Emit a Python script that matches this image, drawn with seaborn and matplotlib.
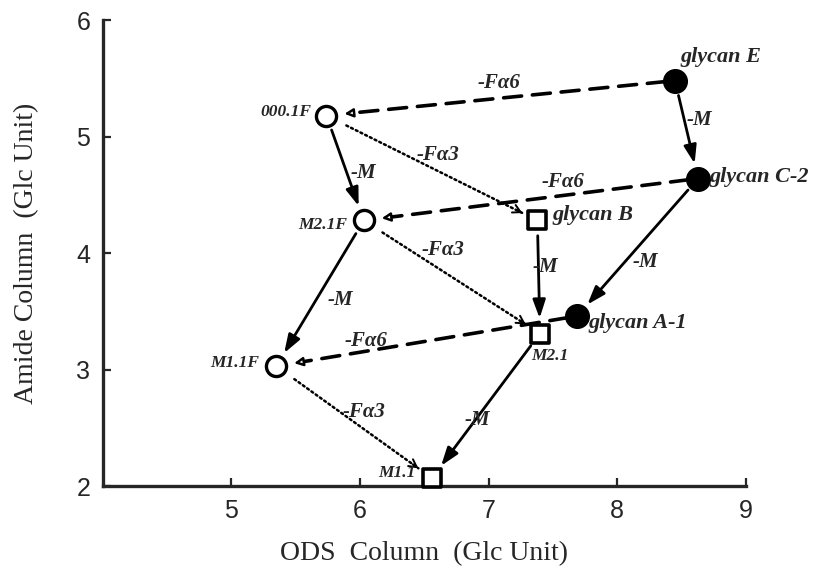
import numpy as np
import pandas as pd
import matplotlib
matplotlib.use("Agg")
import matplotlib.pyplot as plt
import seaborn as sns

# ---------------- data ----------------
names = ["glycan E", "glycan C-2", "glycan A-1", "glycan B", "M2.1", "M1.1",
         "000.1F", "M2.1F", "M1.1F"]
ods = [8.45, 8.63, 7.69, 7.38, 7.40, 6.56, 5.74, 6.03, 5.35]
amide = [5.48, 4.64, 3.46, 4.28, 3.31, 2.07, 5.18, 4.28, 3.03]
kinds = ["filled", "filled", "filled", "square", "square", "square",
         "open", "open", "open"]

# edges: source, target, type, label
edge_src = ["glycan E", "glycan C-2", "glycan B", "M2.1", "000.1F", "M2.1F",
            "glycan E", "glycan C-2", "glycan A-1",
            "000.1F", "M2.1F", "M1.1F"]
edge_dst = ["glycan C-2", "glycan A-1", "M2.1", "M1.1", "M2.1F", "M1.1F",
            "000.1F", "M2.1F", "M1.1F",
            "glycan B", "M2.1", "M1.1"]
edge_type = ["M"] * 6 + ["F6"] * 3 + ["F3"] * 3
edge_label = ["-M"] * 6 + ["-Fα6"] * 3 + ["-Fα3"] * 3

df = pd.DataFrame({"name": names, "x": ods, "y": amide, "kind": kinds})

# ---------------- layout ----------------
sns.set_style("ticks")
plt.rcParams["font.family"] = ["Liberation Serif", "DejaVu Serif"]

fig = plt.figure(figsize=(8.15, 5.72), dpi=100)
ax = fig.add_axes([0.126, 0.150, 0.789, 0.815])
ax.set_xlim(4, 9)
ax.set_ylim(2, 6)

# markers
sns.scatterplot(data=df[df.kind == "filled"], x="x", y="y", ax=ax, marker="o",
                s=290, color="black", edgecolor="black", linewidth=1,
                clip_on=False, zorder=5, legend=False)
sns.scatterplot(data=df[df.kind == "square"], x="x", y="y", ax=ax, marker="s",
                s=180, color="white", edgecolor="black", linewidth=2.6,
                clip_on=False, zorder=5, legend=False)
sns.scatterplot(data=df[df.kind == "open"], x="x", y="y", ax=ax, marker="o",
                s=210, color="white", edgecolor="black", linewidth=2.4,
                clip_on=False, zorder=5, legend=False)

pos = {n: (x, y) for n, x, y in zip(names, ods, amide)}

# node label placement (x, y, ha, fontsize)
node_lab = {
    "glycan E": (8.49, 5.68, "left", 16),
    "glycan C-2": (8.72, 4.65, "left", 16),
    "glycan B": (7.50, 4.33, "left", 16),
    "glycan A-1": (7.78, 3.40, "left", 16),
    "M2.1": (7.33, 3.12, "left", 12.5),
    "M1.1": (6.43, 2.11, "right", 12.5),
    "000.1F": (5.62, 5.21, "right", 12.5),
    "M2.1F": (5.90, 4.24, "right", 12.5),
    "M1.1F": (5.22, 3.06, "right", 12.5),
}
for n, (lx, ly, ha, fs) in node_lab.items():
    ax.text(lx, ly, n, ha=ha, va="center", fontsize=fs, fontstyle="italic",
            fontweight="bold", zorder=6)

# edge label placement
edge_lab_pos = [(8.64, 5.14), (8.22, 3.92), (7.44, 3.88), (6.91, 2.57),
                (6.03, 4.69), (5.85, 3.60),
                (7.08, 5.46), (7.58, 4.61), (6.05, 3.25),
                (6.61, 4.84), (6.65, 4.03), (6.03, 2.64)]

fig.canvas.draw()
tr = ax.transData
inv = tr.inverted()
PX2PT = 72.0 / fig.dpi


def point_back(src, dst, shrink_pt, back_pt):
    s = np.array(tr.transform(src))
    d = np.array(tr.transform(dst))
    v = s - d
    L = np.hypot(*v)
    u = v / L
    tip = d + u * (shrink_pt / PX2PT)
    start = d + u * ((shrink_pt + back_pt) / PX2PT)
    return inv.transform(tip), inv.transform(start)


for s, d, t, lab, lp in zip(edge_src, edge_dst, edge_type, edge_label, edge_lab_pos):
    p0, p1 = pos[s], pos[d]
    if t == "M":
        ax.annotate("", xy=p1, xytext=p0,
                    arrowprops=dict(arrowstyle="-|>,head_length=1.1,head_width=0.38",
                                    mutation_scale=10, lw=2.0, color="black",
                                    fc="black", shrinkA=11, shrinkB=11),
                    zorder=4, annotation_clip=False)
    elif t == "F6":
        sb = 13
        tip, st = point_back(p0, p1, sb, 5)
        ax.annotate("", xy=st, xytext=p0,
                    arrowprops=dict(arrowstyle="-", lw=2.6, color="black",
                                    linestyle=(0, (5, 3)), shrinkA=7, shrinkB=0),
                    zorder=4)
        ax.annotate("", xy=tip, xytext=st,
                    arrowprops=dict(arrowstyle="-|>,head_length=0.5,head_width=0.25",
                                    mutation_scale=10, lw=1.8, ec="black",
                                    fc="white", shrinkA=0, shrinkB=0),
                    zorder=4)
    else:
        sb = 12
        tip, st = point_back(p0, p1, sb, 5)
        ax.annotate("", xy=tip, xytext=p0,
                    arrowprops=dict(arrowstyle="-", lw=1.8, color="black",
                                    linestyle=(0, (0.8, 1.3)), shrinkA=16, shrinkB=0),
                    zorder=4)
        ax.annotate("", xy=tip, xytext=st,
                    arrowprops=dict(arrowstyle="->,head_length=0.55,head_width=0.3",
                                    mutation_scale=10, lw=1.4, color="black",
                                    shrinkA=0, shrinkB=0),
                    zorder=4)
    ax.text(lp[0], lp[1], lab, ha="center", va="center", fontsize=15,
            fontstyle="italic", fontweight="bold", zorder=6)

# axes styling
sns.despine(ax=ax)
for sp in ["left", "bottom"]:
    ax.spines[sp].set_linewidth(2.4)
ax.set_xticks([5, 6, 7, 8, 9])
ax.set_yticks([2, 3, 4, 5, 6])
ax.tick_params(direction="in", length=6, width=1.6, labelsize=18, pad=9)
for lbl in ax.get_xticklabels() + ax.get_yticklabels():
    lbl.set_family(["Liberation Sans", "DejaVu Sans"])
ax.set_xlabel("ODS  Column  (Glc Unit)", fontsize=20, labelpad=13)
ax.set_ylabel("Amide Column  (Glc Unit)", fontsize=20, labelpad=27)

fig.savefig("out.png", dpi=100)
